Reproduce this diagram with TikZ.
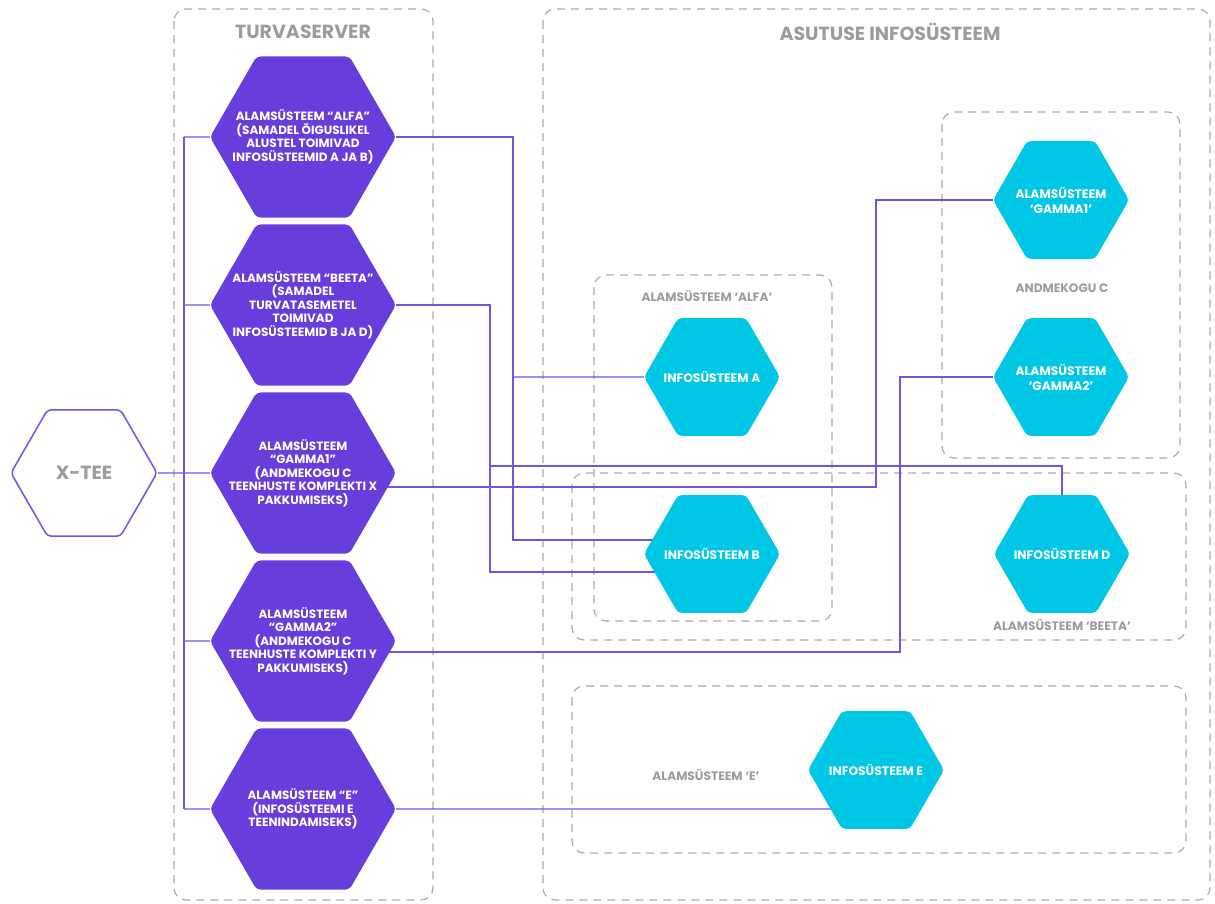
\documentclass[tikz,border=0pt]{standalone}
\usepackage{fontspec}
\setmainfont{Poppins}
\usetikzlibrary{shapes.geometric,backgrounds}

\definecolor{hexpurple}{HTML}{673DDC}
\definecolor{hexcyan}{HTML}{00C7E5}
\definecolor{linkpurple}{HTML}{7452E6}
\definecolor{boxgray}{HTML}{ABABAB}
\definecolor{labelgray}{HTML}{9C9C9C}

\begin{document}
\begin{tikzpicture}[x=1pt,y=-1pt,
  server/.style={regular polygon, regular polygon sides=6, minimum size=186pt, inner sep=-26pt,
    fill=hexpurple, rounded corners=4pt, text=white, align=center,
    font=\bfseries\fontsize{12}{13.5}\selectfont},
  system/.style={regular polygon, regular polygon sides=6, minimum size=136pt, inner sep=-16pt,
    fill=hexcyan, rounded corners=4pt, text=white, align=center,
    font=\bfseries\fontsize{12.3}{15}\selectfont},
  gateway/.style={regular polygon, regular polygon sides=6, minimum size=146pt, inner sep=0pt,
    draw=linkpurple, line width=1.5pt, fill=white, rounded corners=4pt, text=labelgray,
    font=\bfseries\fontsize{19}{21}\selectfont},
  group/.style={draw=boxgray, line width=1.2pt, dash pattern=on 8pt off 6pt, rounded corners=12pt},
  grouptitle/.style={text=labelgray, font=\bfseries\fontsize{19}{21}\selectfont},
  grouplabel/.style={text=labelgray, font=\bfseries\fontsize{12.2}{14}\selectfont},
  link/.style={draw=linkpurple, line width=1.3pt}]

  \useasboundingbox (0,0) rectangle (1215,903);

  % gateway and security server
  \node[gateway] (xtee) at (84,473) {X-TEE};
  \node[grouptitle] (tServer) at (303,32) {TURVASERVER};
  \node[server] (alfa) at (303,137) {ALAMSÜSTEEM “ALFA”\\(SAMADEL ÕIGUSLIKEL\\ALUSTEL TOIMIVAD\\INFOSÜSTEEMID A JA B)};
  \node[server] (beeta) at (303,305) {ALAMSÜSTEEM “BEETA”\\(SAMADEL\\TURVATASEMETEL\\TOIMIVAD\\INFOSÜSTEEMID B JA D)};
  \node[server] (gamma1) at (303,473) {ALAMSÜSTEEM\\“GAMMA1”\\(ANDMEKOGU C\\TEENHUSTE KOMPLEKTI X\\PAKKUMISEKS)};
  \node[server] (gamma2) at (303,641) {ALAMSÜSTEEM\\“GAMMA2”\\(ANDMEKOGU C\\TEENHUSTE KOMPLEKTI Y\\PAKKUMISEKS)};
  \node[server] (ee) at (303,809) {ALAMSÜSTEEM “E”\\(INFOSÜSTEEMI E\\TEENINDAMISEKS)};

  % information systems
  \node[grouptitle] (tAsutus) at (890,32) {ASUTUSE INFOSÜSTEEM};
  \node[system] (infA) at (712,377) {INFOSÜSTEEM A};
  \node[system] (infB) at (712,554) {INFOSÜSTEEM B};
  \node[system] (infD) at (1062,554) {INFOSÜSTEEM D};
  \node[system] (infG1) at (1061,200) {ALAMSÜSTEEM\\‘GAMMA1’};
  \node[system] (infG2) at (1061,377) {ALAMSÜSTEEM\\‘GAMMA2’};
  \node[system] (infE) at (876,770) {INFOSÜSTEEM E};

  \node[grouplabel] (lAlfa) at (707,296) {ALAMSÜSTEEM ‘ALFA’};
  \node[grouplabel] (lAndmed) at (1062,288) {ANDMEKOGU C};
  \node[grouplabel] (lBeeta) at (1062,625) {ALAMSÜSTEEM ‘BEETA’};
  \node[grouplabel] (lE) at (706,775) {ALAMSÜSTEEM ‘E’};

  \coordinate (bus) at (184,473);
  \coordinate (jAB) at (513,540);
  \coordinate (jB) at (490,572);
  \coordinate (jD) at (490,466);
  \coordinate (kG1) at (876,487);
  \coordinate (kG2) at (900,652);

  \begin{pgfonlayer}{background}
    % dashed groups
    \draw[group] (174,9) rectangle (433,900);
    \draw[group] (543,9) rectangle (1210,900);
    \draw[group] (594,275) rectangle (832,621);
    \draw[group] (942,112) rectangle (1180,458);
    \draw[group] (572,473) rectangle (1186,640);
    \draw[group] (572,686) rectangle (1186,853);

    % connectors
    \draw[link] (xtee) -- (bus);
    \draw[link] (bus |- alfa) -- (bus |- ee);
    \foreach \n in {alfa,beeta,gamma1,gamma2,ee}
      \draw[link] (bus |- \n) -- (\n);
    \draw[link] (alfa) -| (jAB) -- (jAB -| infB);
    \draw[link] (jAB |- infA) -- (infA);
    \draw[link] (beeta) -| (jB) -- (jB -| infB);
    \draw[link] (jD) -| (infD);
    \draw[link] (kG1 -| gamma1) -- (kG1) |- (infG1);
    \draw[link] (kG2 -| gamma2) -- (kG2) |- (infG2);
    \draw[link] (ee) -- (ee -| infE);
  \end{pgfonlayer}
\end{tikzpicture}
\end{document}
